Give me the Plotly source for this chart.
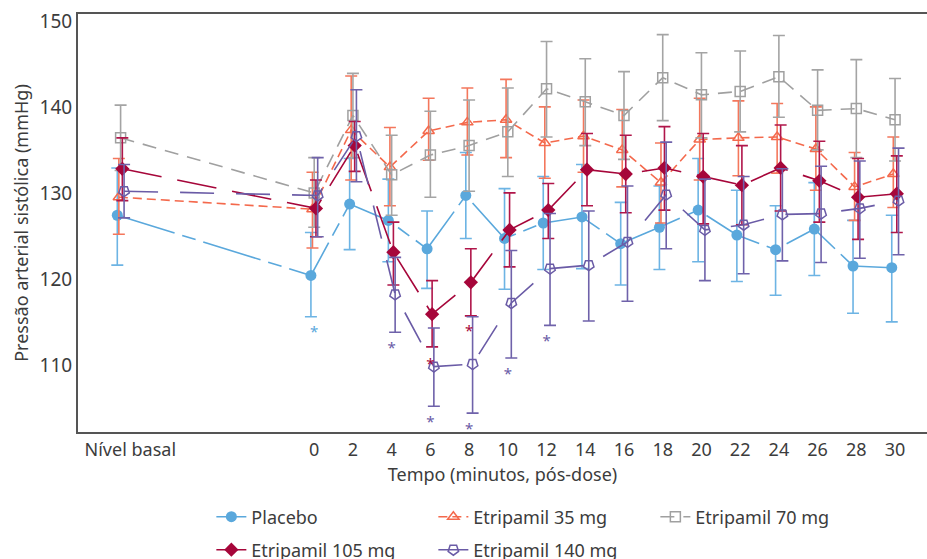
import plotly.graph_objects as go

# Time points (minutes post-dose); baseline ("Nível basal") is drawn at -10
time_min = [-10, 0, 2, 4, 6, 8, 10, 12, 14, 16, 18, 20, 22, 24, 26, 28, 30]
tick_vals = [-9.5, 0, 2, 4, 6, 8, 10, 12, 14, 16, 18, 20, 22, 24, 26, 28, 30]
tick_text = ["Nível basal", "0", "2", "4", "6", "8", "10", "12", "14", "16",
             "18", "20", "22", "24", "26", "28", "30"]

placebo_mean = [127.4, 120.4, 128.7, 126.8, 123.5, 129.7, 124.7, 126.5, 127.2, 124.1, 126.0, 128.0, 125.1, 123.4, 125.8, 121.5, 121.3]
placebo_hi = [132.9, 125.4, 134.0, 131.6, 127.9, 134.7, 130.5, 131.9, 133.3, 128.9, 130.8, 134.0, 130.3, 128.5, 131.2, 126.8, 127.4]
placebo_lo = [121.6, 115.6, 123.4, 122.0, 118.9, 124.7, 118.8, 121.1, 121.2, 119.3, 121.1, 122.0, 119.7, 118.1, 120.4, 116.0, 115.0]

e35_mean = [129.5, 128.1, 137.3, 133.0, 137.2, 138.2, 138.5, 135.8, 136.6, 135.0, 131.2, 136.2, 136.4, 136.5, 135.1, 130.7, 132.2]
e35_hi = [134.0, 132.4, 143.6, 137.6, 141.0, 142.2, 143.2, 140.0, 140.8, 139.7, 135.8, 141.0, 140.7, 140.4, 140.0, 134.7, 136.5]
e35_lo = [125.2, 123.6, 131.5, 128.5, 133.8, 134.4, 134.1, 131.7, 132.4, 130.7, 126.5, 131.5, 132.0, 132.3, 130.3, 126.8, 128.3]

e70_mean = [136.4, 130.0, 139.0, 132.1, 134.4, 135.5, 137.1, 142.1, 140.6, 139.0, 143.4, 141.4, 141.8, 143.5, 139.6, 139.8, 138.5]
e70_hi = [140.2, 134.1, 143.9, 136.7, 139.5, 140.8, 142.2, 147.6, 145.6, 144.1, 148.4, 146.3, 146.5, 148.3, 144.3, 145.5, 143.3]
e70_lo = [132.6, 126.0, 134.1, 127.4, 129.5, 130.2, 131.9, 136.5, 135.5, 133.9, 138.4, 136.4, 137.1, 138.8, 135.0, 134.1, 133.7]

e105_mean = [132.8, 128.2, 135.5, 123.1, 115.9, 119.6, 125.7, 128.0, 132.7, 132.2, 132.9, 131.9, 130.9, 132.9, 131.4, 129.5, 129.9]
e105_hi = [136.4, 131.5, 138.3, 126.6, 119.8, 123.5, 130.0, 131.1, 136.9, 136.7, 137.7, 136.9, 135.5, 137.9, 136.0, 134.0, 134.3]
e105_lo = [129.1, 124.9, 132.5, 119.3, 112.1, 115.7, 121.4, 124.7, 128.5, 127.7, 128.0, 126.4, 126.3, 127.9, 126.6, 124.6, 125.4]

e140_mean = [130.2, 129.7, 136.6, 118.2, 109.8, 110.1, 117.2, 121.2, 121.6, 124.3, 129.8, 125.7, 126.3, 127.5, 127.6, 128.2, 129.1]
e140_hi = [133.3, 134.1, 142.0, 122.5, 114.3, 115.6, 123.3, 127.6, 127.9, 130.8, 135.9, 131.6, 131.9, 132.8, 133.1, 133.7, 135.2]
e140_lo = [127.1, 124.9, 131.3, 113.8, 105.2, 104.4, 110.8, 114.6, 115.1, 117.4, 123.5, 119.8, 120.6, 122.1, 121.9, 122.4, 122.8]

# significance markers (*)
sig_placebo_t = [0]
sig_placebo_y = [113.7]
sig_105_t = [6, 8]
sig_105_y = [110.0, 113.8]
sig_140_t = [4, 6, 8, 10, 12]
sig_140_y = [111.8, 103.2, 102.4, 108.8, 112.6]

FONT = "Noto Sans"
TXT = "#3c3c3c"

series = [
    dict(name="Placebo", mean=placebo_mean, hi=placebo_hi, lo=placebo_lo,
         color="#5aa8dc", ecolor="#6db4e4", dash="60px,8px,14px,8px", off=-0.17,
         marker=dict(symbol="circle", size=11), legend="legend"),
    dict(name="Etripamil 35 mg", mean=e35_mean, hi=e35_hi, lo=e35_lo,
         color="#f4694c", ecolor="#f4775c", dash="9px,5px", off=-0.09,
         marker=dict(symbol="triangle-up-open", size=10, line=dict(width=1.5)), legend="legend"),
    dict(name="Etripamil 70 mg", mean=e70_mean, hi=e70_hi, lo=e70_lo,
         color="#a0a0a0", ecolor="#a4a4a4", dash="14px,9px", off=0.0,
         marker=dict(symbol="square-open", size=10, line=dict(width=1.5)), legend="legend"),
    dict(name="Etripamil 105 mg", mean=e105_mean, hi=e105_hi, lo=e105_lo,
         color="#a6063a", ecolor="#b0164a", dash="40px,16px", off=0.09,
         marker=dict(symbol="diamond", size=11), legend="legend2"),
    dict(name="Etripamil 140 mg", mean=e140_mean, hi=e140_hi, lo=e140_lo,
         color="#6a5ba6", ecolor="#6f62aa", dash="34px,22px", off=0.18,
         marker=dict(symbol="pentagon-open", size=11, angle=180, line=dict(width=1.5)), legend="legend2"),
]

fig = go.Figure()
for s in series:
    xs = [t + s["off"] for t in time_min]
    up = [h - m for h, m in zip(s["hi"], s["mean"])]
    dn = [m - l for m, l in zip(s["mean"], s["lo"])]
    mk = dict(s["marker"])
    mk["color"] = s["color"]
    fig.add_trace(go.Scatter(
        x=xs, y=s["mean"], name=s["name"], mode="lines+markers",
        line=dict(color=s["color"], width=1.6, dash=s["dash"]),
        marker=mk, legend=s["legend"],
        error_y=dict(type="data", symmetric=False, array=up, arrayminus=dn,
                     color=s["ecolor"], thickness=1.6, width=6),
    ))

for tx, ty, col in [(sig_placebo_t, sig_placebo_y, "#5aa8dc"),
                    (sig_105_t, sig_105_y, "#a6063a"),
                    (sig_140_t, sig_140_y, "#6a5ba6")]:
    fig.add_trace(go.Scatter(x=tx, y=ty, mode="text", text=["*"] * len(tx),
                             textfont=dict(color=col, size=15, family=FONT),
                             showlegend=False, hoverinfo="skip"))

leg_common = dict(orientation="h", xref="container", yref="container",
                  xanchor="left", yanchor="middle",
                  entrywidth=177, entrywidthmode="pixels",
                  font=dict(size=18, color=TXT), bgcolor="rgba(0,0,0,0)")

fig.update_layout(
    width=927, height=559,
    margin=dict(l=78, r=0, t=14, b=127, autoexpand=False),
    paper_bgcolor="white", plot_bgcolor="white",
    font=dict(family=FONT, size=18, color=TXT),
    xaxis=dict(range=[-12.2, 31.65], tickvals=tick_vals, ticktext=tick_text,
               showgrid=False, zeroline=False, showline=True, linecolor="#555555",
               linewidth=2, mirror=True, ticks="", tickfont=dict(size=18, color=TXT),
               title=dict(text="Tempo (minutos, pós-dose)", font=dict(size=18, color=TXT),
                          standoff=9)),
    yaxis=dict(range=[102.2, 150.8], tickvals=[110, 120, 130, 140, 150],
               showgrid=False, zeroline=False, showline=True, linecolor="#555555",
               linewidth=2, ticks="", tickfont=dict(size=19, color=TXT),
               title=dict(text="Pressão arterial sistólica (mmHg)",
                          font=dict(size=18, color=TXT), standoff=6)),
    legend=dict(x=0.228, y=1 - 517 / 559, **leg_common),
    legend2=dict(x=0.228, y=1 - 550 / 559, **leg_common),
)

fig.write_html("out.html", config={"displayModeBar": False},
               post_script="document.body.style.margin='0px';")
